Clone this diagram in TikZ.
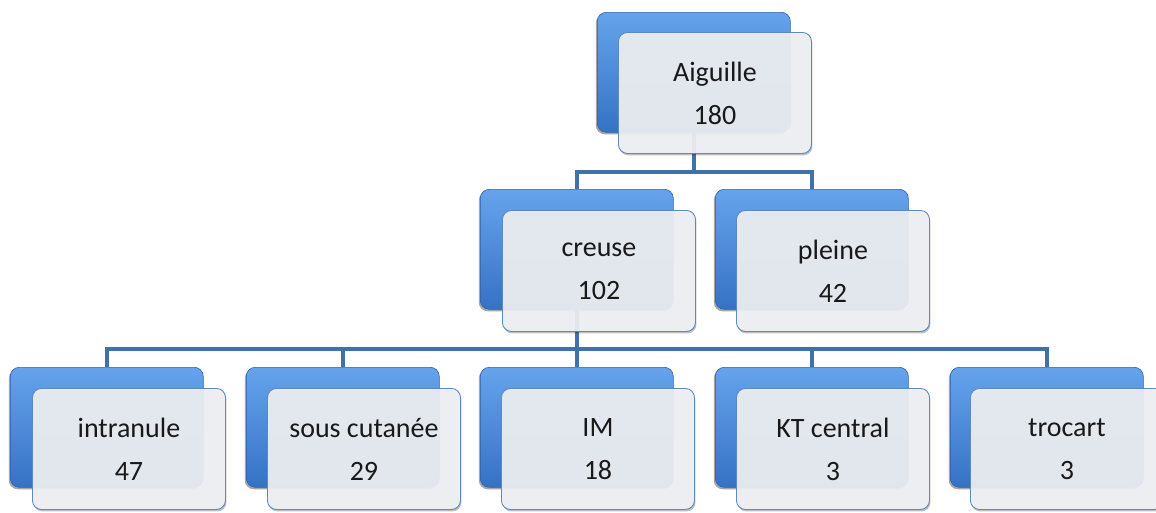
\documentclass[tikz,border=0pt]{standalone}
\usepackage{fontspec}
\setmainfont{Carlito}
\usetikzlibrary{shadows}
\definecolor{linkblue}{HTML}{4171AA}
\definecolor{backtop}{HTML}{66A3EC}
\definecolor{backmid}{HTML}{3E7FD3}
\definecolor{backbot}{HTML}{3672C4}
\definecolor{backedge}{HTML}{2F62A8}
\definecolor{cardfill}{HTML}{F0F2F5}
\definecolor{cardedge}{HTML}{5A89C4}
\tikzset{
  backbox/.style={anchor=north west, minimum width=193pt, minimum height=120pt,
    inner sep=0pt, rounded corners=9pt, draw=backedge, line width=0.6pt,
    top color=backtop, middle color=backmid, bottom color=backbot,
    drop shadow={shadow xshift=-1.5pt, shadow yshift=-2pt, opacity=0.35, fill=black}},
  card/.style={anchor=north west, minimum width=193pt, minimum height=121pt,
    inner sep=0pt, rounded corners=9pt, draw=cardedge, line width=0.9pt,
    fill=cardfill, fill opacity=0.93, text opacity=1, align=center,
    font=\fontsize{28}{43}\selectfont, text=black!90,
    drop shadow={shadow xshift=1pt, shadow yshift=-2pt, opacity=0.25, fill=black}},
  link/.style={draw=linkblue, line width=3.4pt}
}
\begin{document}
\begin{tikzpicture}[x=1pt, y=-1pt]
  \useasboundingbox (0,0) rectangle (1156,512);
  \fill[white] (0,0) rectangle (1156,512);

  % horizontal bus levels
  \coordinate (bus1) at (0,172);
  \coordinate (bus2) at (0,349);

  % back (blue) plates
  \path
    node[backbox] (aig-b) at (597,12)  {}
    node[backbox] (cre-b) at (480,189) {}
    node[backbox] (ple-b) at (715,189) {}
    node[backbox] (int-b) at (10,367)  {}
    node[backbox] (sou-b) at (246,367) {}
    node[backbox] (im-b)  at (480,367) {}
    node[backbox] (kt-b)  at (715,367) {}
    node[backbox] (tro-b) at (950,367) {};

  % tree links
  \draw[link] (aig-b.south) -- (aig-b.south |- bus1) -| (cre-b.north);
  \draw[link] (aig-b.south |- bus1) -| (ple-b.north);
  \draw[link] (cre-b.south) -- (cre-b.south |- bus2);
  \foreach \n in {int,sou,im,kt,tro}
    \draw[link] (cre-b.south |- bus2) -| (\n-b.north);

  % front cards with labels
  \node[card] (aig) at (618,32)  {Aiguille\\180};
  \node[card] (cre) at (502,210) {creuse\\102};
  \node[card] (ple) at (736,210) {pleine\\42};
  \node[card] (int) at (32,388)  {intranule\\47};
  \node[card] (sou) at (267,388) {sous cutanée\\29};
  \node[card] (im)  at (501,388) {IM\\18};
  \node[card] (kt)  at (736,388) {KT central\\3};
  \node[card] (tro) at (970,388) {trocart\\3};
\end{tikzpicture}
\end{document}
